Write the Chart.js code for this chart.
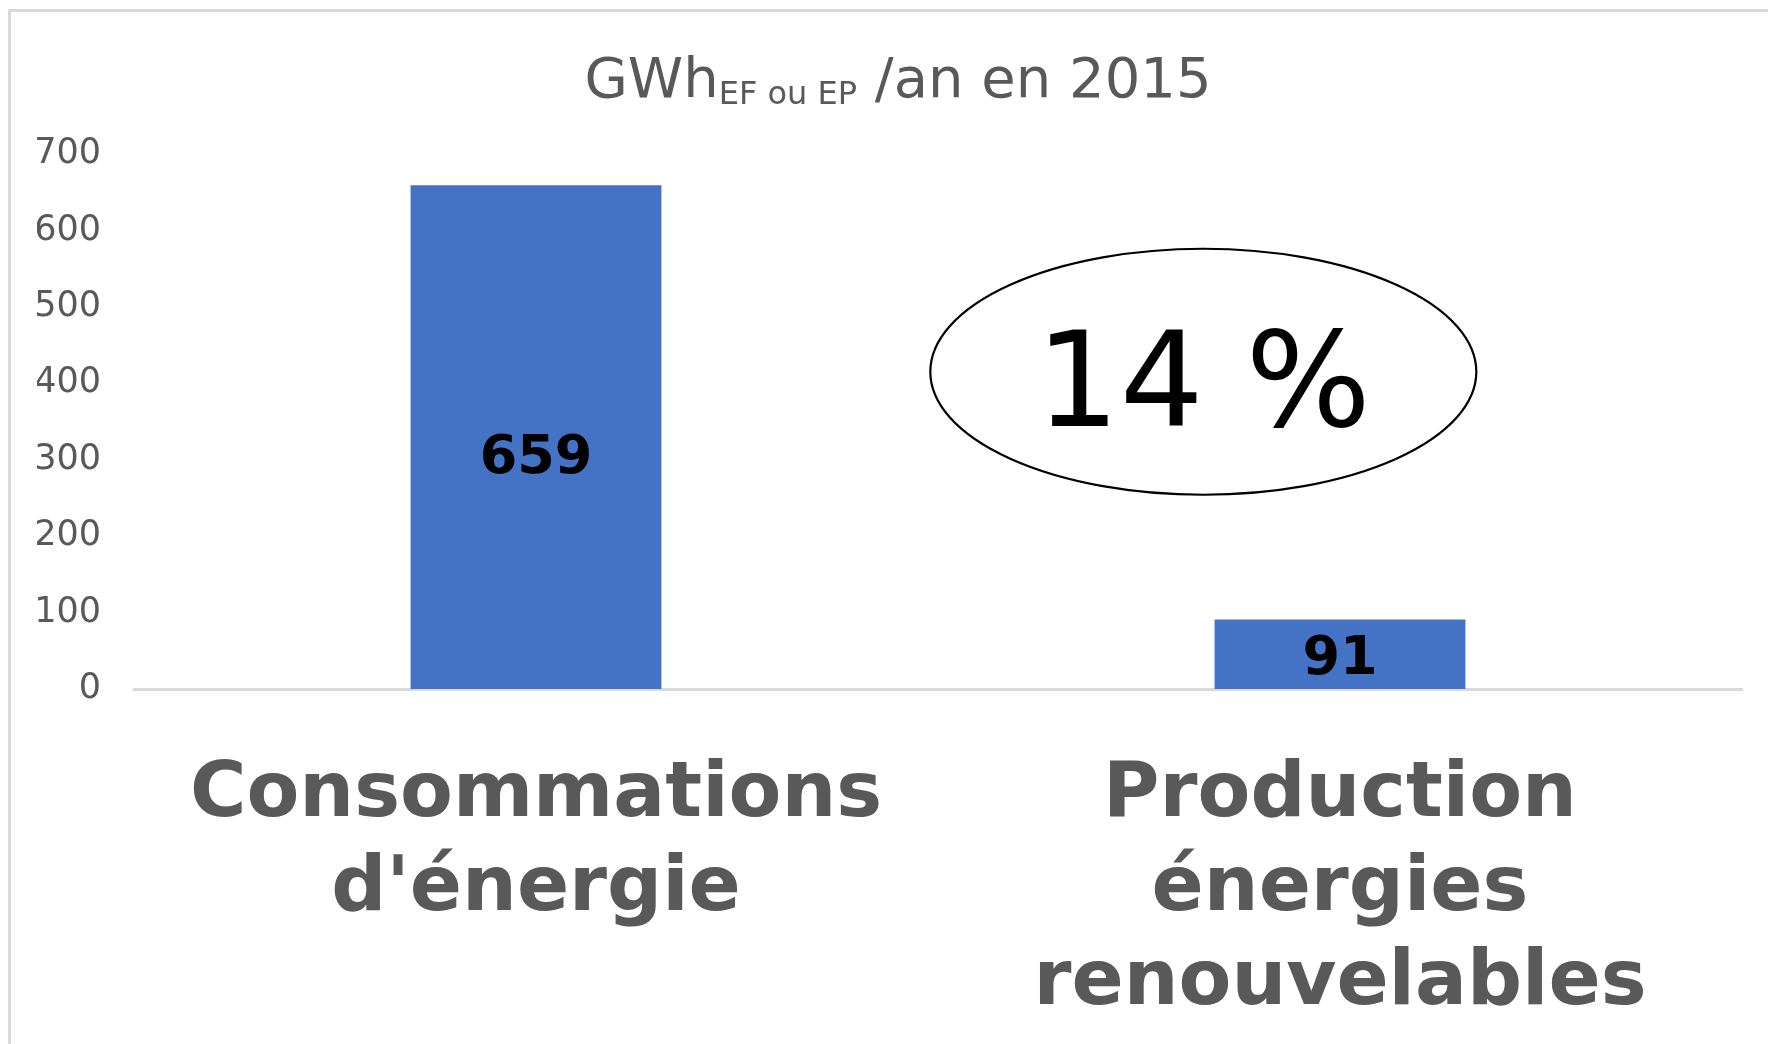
<!DOCTYPE html>
<html>
<head>
<meta charset="utf-8">
<script src="https://cdn.jsdelivr.net/npm/chart.js@4/dist/chart.umd.min.js"></script>
<style>
  html, body { margin: 0; padding: 0; background: #fff; overflow: hidden; }
  #frame { position: absolute; left: 8px; top: 9px; width: 1800px; height: 1100px;
           border-top: 3px solid #d9d9d9; border-left: 3px solid #d9d9d9; }
  #wrap { position: absolute; left: 0; top: 0; width: 1768px; height: 1044px; }
</style>
</head>
<body>
<div id="frame"></div>
<div id="wrap"><canvas id="myChart"></canvas></div>
<script>
var categories = [["Consommations", "d'énergie"], ["Production", "énergies", "renouvelables"]];
var values = [659, 91];
var yTicks = [0, 100, 200, 300, 400, 500, 600, 700];
var ratioText = "14 %";

var grey = '#595959';

// title with subscript, value labels and the ellipse
var extras = {
  id: 'extras',
  afterDraw: function (chart) {
    var c = chart.ctx;
    var area = chart.chartArea;
    c.save();

    // title
    var big = '56px "DejaVu Sans"', small = '32px "DejaVu Sans"';
    var parts = [["GWh", big, 0], ["EF ou EP", small, 7], [" /an en 2015", big, 0]];
    var total = 0;
    parts.forEach(function (p) { c.font = p[1]; total += c.measureText(p[0]).width; });
    var x = 898 - total / 2;
    c.fillStyle = grey;
    c.textBaseline = 'alphabetic';
    c.textAlign = 'left';
    parts.forEach(function (p) {
      c.font = p[1];
      c.fillText(p[0], x, 97 + p[2]);
      x += c.measureText(p[0]).width;
    });

    // value labels in the bars
    var meta = chart.getDatasetMeta(0);
    c.font = 'bold 54px "DejaVu Sans"';
    c.fillStyle = '#000';
    c.textAlign = 'center';
    c.textBaseline = 'middle';
    meta.data.forEach(function (bar, i) {
      var mid = (bar.y + bar.base) / 2;
      c.fillText(values[i], bar.x, mid + (i === 0 ? 22 : 6));
    });

    // ellipse with ratio
    var cx = area.left + 0.665 * (area.right - area.left);
    var cy = area.top + 0.407 * (area.bottom - area.top);
    c.beginPath();
    c.ellipse(cx, cy, 273, 123, 0, 0, Math.PI * 2);
    c.lineWidth = 2.2;
    c.strokeStyle = '#000';
    c.stroke();
    c.font = '132px "DejaVu Sans"';
    c.textBaseline = 'alphabetic';
    c.fillText(ratioText, cx, cy + 54);
    c.restore();
  }
};

var ctx = document.getElementById('myChart');
var myChart = new Chart(ctx, {
  type: 'bar',
  data: {
    labels: categories,
    datasets: [{
      data: values,
      backgroundColor: '#4472C4',
      borderWidth: 0,
      barPercentage: 0.312,
      categoryPercentage: 1
    }]
  },
  options: {
    responsive: true,
    maintainAspectRatio: false,
    animation: false,
    layout: { padding: { left: 37, right: 26, top: 154, bottom: 10 } },
    plugins: { legend: { display: false }, tooltip: { enabled: false } },
    scales: {
      x: {
        afterFit: function (axis) { axis.height = 345; },
        grid: { display: false, drawTicks: false },
        border: { display: true, color: '#d9d9d9', width: 3 },
        ticks: {
          color: grey,
          font: { family: 'DejaVu Sans', size: 77, weight: 'bold', lineHeight: 1.22 },
          padding: 60,
          maxRotation: 0,
          autoSkip: false
        }
      },
      y: {
        min: 0,
        max: 700,
        afterBuildTicks: function (axis) { axis.ticks = yTicks.map(function (v) { return { value: v }; }); },
        afterFit: function (axis) { axis.width = 97; },
        grid: { display: false, drawTicks: false },
        border: { display: false },
        ticks: {
          color: grey,
          font: { family: 'DejaVu Sans', size: 35 },
          padding: 33
        }
      }
    }
  },
  plugins: [extras]
});
</script>
</body>
</html>
